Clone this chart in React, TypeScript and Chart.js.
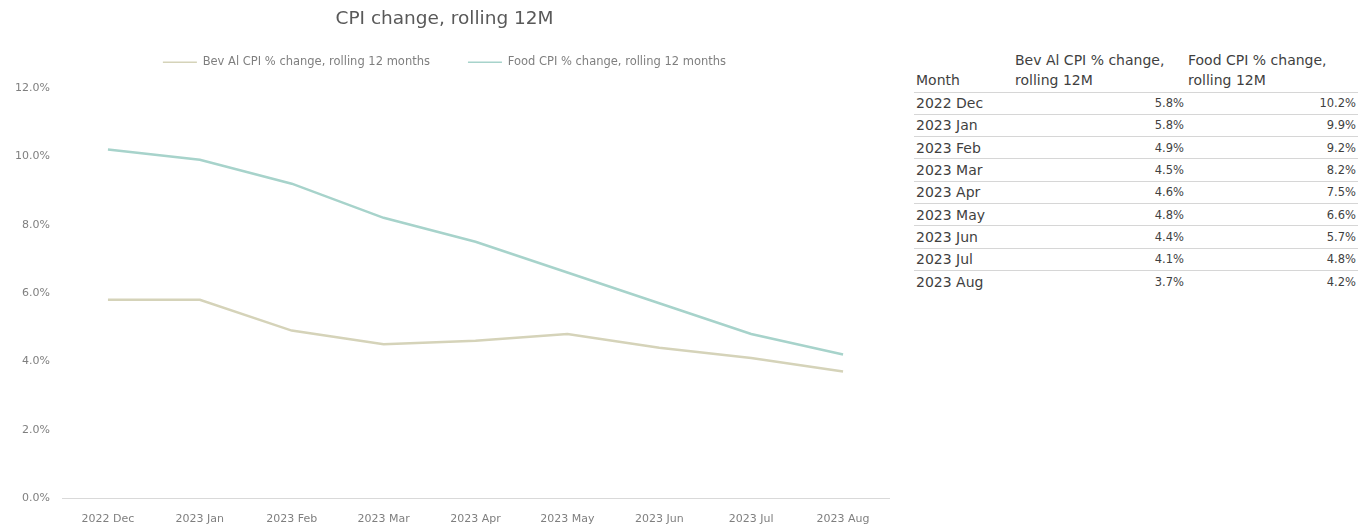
import React, { useEffect, useRef } from "react";
import { Chart, registerables } from "chart.js";

Chart.register(...registerables);

const months = ["2022 Dec", "2023 Jan", "2023 Feb", "2023 Mar", "2023 Apr", "2023 May", "2023 Jun", "2023 Jul", "2023 Aug"];
const bevAl = [5.8, 5.8, 4.9, 4.5, 4.6, 4.8, 4.4, 4.1, 3.7];
const food = [10.2, 9.9, 9.2, 8.2, 7.5, 6.6, 5.7, 4.8, 4.2];
const seriesNames = ["Bev Al CPI % change, rolling 12 months", "Food CPI % change, rolling 12 months"];
const tableHeaders = ["Month", "Bev Al CPI % change, rolling 12M", "Food CPI % change, rolling 12M"];
const title = "CPI change, rolling 12M";

const FONT = '"DejaVu Sans", sans-serif';
const BEV_COLOR = "#d5d3b9";
const FOOD_COLOR = "#a7d3cb";

const legendHeightPlugin = {
  id: "legendHeight",
  afterInit(chart: any) {
    const lg = chart.legend;
    if (!lg) return;
    const orig = lg.fit.bind(lg);
    lg.fit = function () {
      orig();
      this.height = 69.5;
    };
  },
};

export default function App() {
  const ref = useRef<HTMLCanvasElement | null>(null);

  useEffect(() => {
    document.body.style.margin = "0";
    const defaultLabels = (Chart.defaults as any).plugins.legend.labels.generateLabels;
    const chart = new Chart(ref.current as HTMLCanvasElement, {
      type: "line",
      data: {
        labels: months,
        datasets: [
          {
            label: seriesNames[0],
            data: bevAl,
            borderColor: BEV_COLOR,
            backgroundColor: BEV_COLOR,
            borderWidth: 2.5,
            pointRadius: 0,
            tension: 0,
          },
          {
            label: seriesNames[1],
            data: food,
            borderColor: FOOD_COLOR,
            backgroundColor: FOOD_COLOR,
            borderWidth: 2.5,
            pointRadius: 0,
            tension: 0,
          },
        ],
      },
      plugins: [legendHeightPlugin],
      options: {
        animation: false,
        responsive: false,
        maintainAspectRatio: false,
        layout: { padding: { left: 0, right: 11, top: 0, bottom: 0 } },
        plugins: {
          title: {
            display: true,
            text: title,
            color: "#595959",
            font: { family: FONT, size: 18.5, weight: "normal" },
            padding: { top: 8, bottom: -11.7 },
          },
          legend: {
            display: true,
            position: "top",
            labels: {
              color: "#7f7f7f",
              font: { family: FONT, size: 11.5 },
              boxWidth: 34,
              boxHeight: 1.5,
              padding: 38,
              generateLabels: (c: any) =>
                defaultLabels(c).map((l: any) => ({ ...l, lineWidth: 0 })),
            },
          },
          tooltip: { enabled: false },
        },
        scales: {
          x: {
            offset: true,
            grid: { display: false, drawTicks: false },
            border: { display: true, color: "#d9d9d9", width: 1 },
            ticks: {
              color: "#7f7f7f",
              font: { family: FONT, size: 11 },
              padding: 15,
              maxRotation: 0,
              autoSkip: false,
            },
            afterFit: (s: any) => {
              s.height = 28;
            },
          },
          y: {
            min: 0,
            max: 12,
            grid: { display: false, drawTicks: false },
            border: { display: false },
            ticks: {
              stepSize: 2,
              color: "#7f7f7f",
              font: { family: FONT, size: 11 },
              padding: 12,
              callback: (v: any) => Number(v).toFixed(1) + "%",
            },
            afterFit: (s: any) => {
              s.width = 62;
            },
          },
        },
      },
    });
    return () => chart.destroy();
  }, []);

  const cellBase: React.CSSProperties = {
    padding: "0 2px",
    fontFamily: FONT,
    fontSize: 14,
    color: "#3f3f3f",
    whiteSpace: "nowrap",
  };
  const headCell: React.CSSProperties = {
    ...cellBase,
    fontWeight: "normal",
    textAlign: "left",
    verticalAlign: "bottom",
    lineHeight: "20px",
    whiteSpace: "normal",
    paddingBottom: 2,
  };
  const valCell: React.CSSProperties = {
    ...cellBase,
    textAlign: "right",
    fontSize: 11.5,
    lineHeight: "20px",
  };

  return (
    <div style={{ position: "relative", width: 1361, height: 526, background: "#fff", overflow: "hidden" }}>
      <canvas ref={ref} width={900} height={526} style={{ position: "absolute", left: 0, top: 0, width: 900, height: 526 }} />
      <table
        style={{
          position: "absolute",
          left: 914,
          top: 48,
          borderCollapse: "collapse",
          tableLayout: "fixed",
          width: 444,
        }}
      >
        <colgroup>
          <col style={{ width: 99 }} />
          <col style={{ width: 173 }} />
          <col style={{ width: 172 }} />
        </colgroup>
        <thead>
          <tr style={{ height: 44 }}>
            <th style={{ ...headCell, whiteSpace: "nowrap" }}>{tableHeaders[0]}</th>
            <th style={headCell}>{tableHeaders[1]}</th>
            <th style={headCell}>{tableHeaders[2]}</th>
          </tr>
        </thead>
        <tbody>
          {months.map((m, i) => (
            <tr key={m} style={{ height: 22.3, borderTop: "1.5px solid #d6d6d6" }}>
              <td style={{ ...cellBase, textAlign: "left", lineHeight: "20px" }}>{m}</td>
              <td style={valCell}>{bevAl[i].toFixed(1)}%</td>
              <td style={valCell}>{food[i].toFixed(1)}%</td>
            </tr>
          ))}
        </tbody>
      </table>
    </div>
  );
}
